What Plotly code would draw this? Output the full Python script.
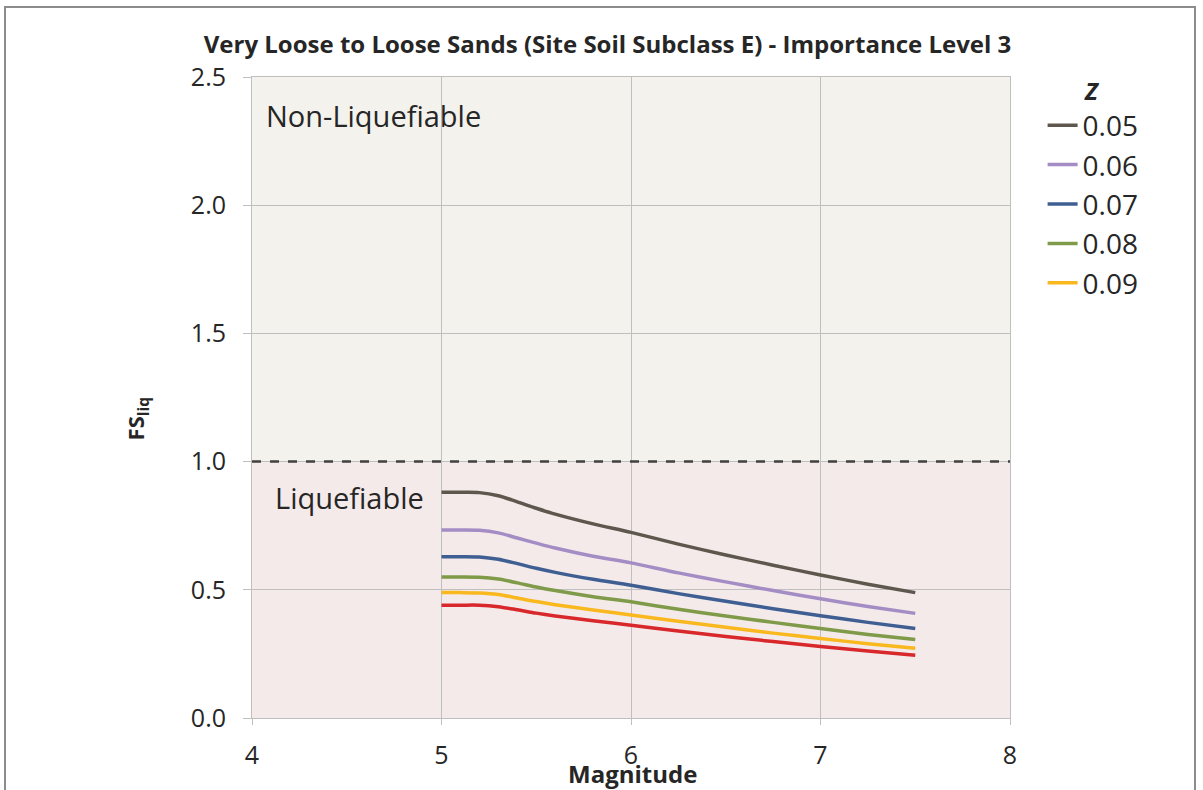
import plotly.graph_objects as go

magnitude = [5.0, 5.1, 5.2, 5.3, 5.4, 5.5, 5.6, 5.8, 6.0, 6.25, 6.5, 6.75, 7.0, 7.25, 7.5]

z_labels = ["0.05", "0.06", "0.07", "0.08", "0.09", "0.10"]
fs_005 = [0.880, 0.880, 0.879, 0.867, 0.843, 0.818, 0.795, 0.757, 0.724, 0.678, 0.636, 0.596, 0.558, 0.522, 0.489]
fs_006 = [0.733, 0.733, 0.732, 0.722, 0.702, 0.682, 0.663, 0.631, 0.605, 0.566, 0.531, 0.497, 0.465, 0.435, 0.408]
fs_007 = [0.629, 0.629, 0.628, 0.619, 0.602, 0.584, 0.568, 0.541, 0.518, 0.485, 0.455, 0.426, 0.399, 0.373, 0.349]
fs_008 = [0.550, 0.550, 0.549, 0.542, 0.527, 0.511, 0.497, 0.473, 0.453, 0.424, 0.398, 0.373, 0.349, 0.326, 0.306]
fs_009 = [0.489, 0.489, 0.488, 0.482, 0.468, 0.454, 0.442, 0.421, 0.402, 0.377, 0.354, 0.331, 0.310, 0.290, 0.272]
fs_010 = [0.440, 0.440, 0.440, 0.434, 0.422, 0.409, 0.398, 0.379, 0.362, 0.339, 0.318, 0.298, 0.279, 0.261, 0.245]
series = [fs_005, fs_006, fs_007, fs_008, fs_009, fs_010]
colors = ["#5E574D", "#A48DC4", "#3F5F93", "#7F9A48", "#F9B81E", "#D8282B"]
in_legend = [True, True, True, True, True, False]

x_ticks = [4, 5, 6, 7, 8]
y_ticks = [0.0, 0.5, 1.0, 1.5, 2.0, 2.5]
threshold = 1.0

FONT = "Open Sans"

fig = go.Figure()
for lab, ys, col, sl in zip(z_labels, series, colors, in_legend):
    fig.add_trace(go.Scatter(
        x=magnitude, y=ys, name=lab, mode="lines",
        line=dict(color=col, width=3.5, shape="spline", smoothing=0.8),
        showlegend=sl,
    ))

# background regions
fig.add_shape(type="rect", xref="x", yref="y", x0=4, x1=8, y0=threshold, y1=2.5,
              fillcolor="#F3F2EC", line_width=0, layer="below")
fig.add_shape(type="rect", xref="x", yref="y", x0=4, x1=8, y0=0, y1=threshold,
              fillcolor="#F5EAEA", line_width=0, layer="below")
# threshold dashed line
fig.add_shape(type="line", xref="x", yref="y", x0=4, x1=8, y0=threshold, y1=threshold,
              line=dict(color="#404040", width=2.5, dash="dash"))
# outer frame
fig.add_shape(type="rect", xref="paper", yref="paper",
              x0=-247 / 758, x1=943 / 758, y0=-1, y1=1 + 70 / 641,
              line=dict(color="#8C8C8C", width=2), fillcolor="rgba(0,0,0,0)")

fig.add_annotation(x=4.065, y=2.35, xref="x", yref="y", text="Non-Liquefiable",
                   showarrow=False, xanchor="left", yanchor="middle",
                   font=dict(family=FONT, size=29, color="#262626"))
fig.add_annotation(x=4.11, y=0.86, xref="x", yref="y", text="Liquefiable",
                   showarrow=False, xanchor="left", yanchor="middle",
                   font=dict(family=FONT, size=29, color="#262626"))
fig.add_annotation(x=0.502, y=-0.087, xref="paper", yref="paper", text="<b>Magnitude</b>",
                   showarrow=False, xanchor="center", yanchor="middle",
                   font=dict(family=FONT, size=24, color="#262626"))
fig.add_annotation(x=-0.152, y=0.467, xref="paper", yref="paper", text="<b>FS<sub>liq</sub></b>",
                   showarrow=False, textangle=-90, xanchor="center", yanchor="middle",
                   font=dict(family=FONT, size=22, color="#262626"))

fig.update_layout(
    width=1203, height=790,
    margin=dict(l=252, r=193, t=77, b=72),
    paper_bgcolor="white", plot_bgcolor="rgba(0,0,0,0)",
    title=dict(text="<b>Very Loose to Loose Sands (Site Soil Subclass E) - Importance Level 3</b>",
               x=0.505, xanchor="center", y=0.943, yanchor="middle",
               font=dict(family=FONT, size=24, color="#262626")),
    font=dict(family=FONT, color="#262626"),
    legend=dict(
        title=dict(text="<b><i>Z</i></b>", side="top center", font=dict(family=FONT, size=24)),
        x=1.043, xanchor="left", y=1.012, yanchor="top",
        font=dict(family=FONT, size=28, color="#262626"),
        bgcolor="rgba(0,0,0,0)", tracegroupgap=0, itemwidth=30,
    ),
    xaxis=dict(range=[4, 8], tickvals=x_ticks, ticktext=[str(v) for v in x_ticks],
               showgrid=True, gridcolor="#BFBFBF", gridwidth=1,
               showline=True, linecolor="#BFBFBF", mirror=True,
               ticks="outside", ticklen=6, tickcolor="#BFBFBF",
               ticklabelstandoff=9, zeroline=False,
               tickfont=dict(family=FONT, size=25, color="#262626")),
    yaxis=dict(range=[0, 2.5], tickvals=y_ticks, ticktext=[f"{v:.1f}" for v in y_ticks],
               showgrid=True, gridcolor="#BFBFBF", gridwidth=1,
               showline=True, linecolor="#BFBFBF", mirror=True,
               ticks="outside", ticklen=8, tickcolor="#BFBFBF",
               ticklabelstandoff=12, zeroline=False,
               tickfont=dict(family=FONT, size=25, color="#262626")),
)

fig.write_html("out.html")
